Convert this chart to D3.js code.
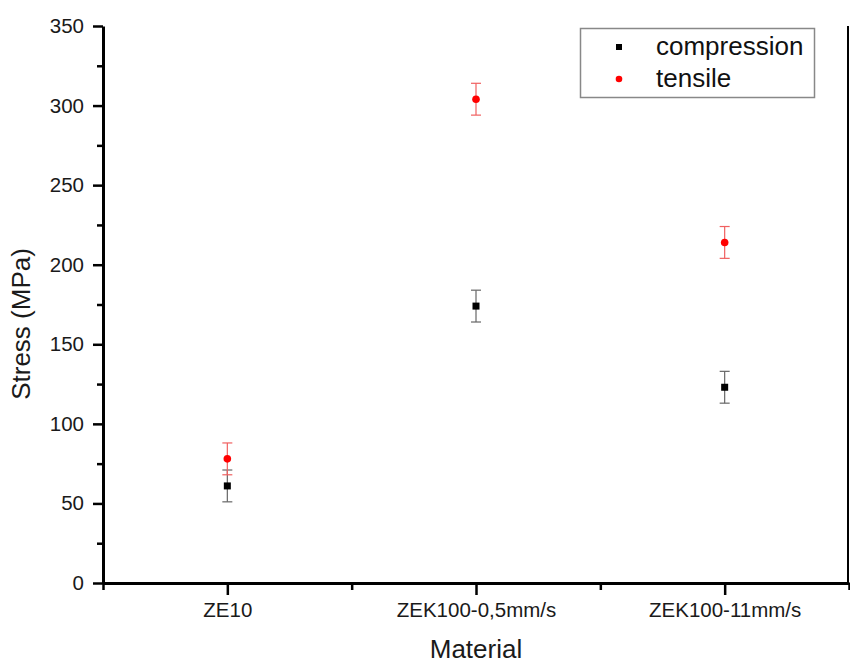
<!DOCTYPE html>
<html><head><meta charset="utf-8">
<script src="https://cdn.jsdelivr.net/npm/d3@7"></script>
<style>body{margin:0;background:#fff}svg{display:block}text{font-family:"Liberation Sans",Arial,sans-serif}</style>
</head><body><svg id="c" width="850" height="664"></svg>
<script>
const categories = ["ZE10", "ZEK100-0,5mm/s", "ZEK100-11mm/s"];
const compression = [61, 174, 123];
const compressionErr = [10, 10, 10];
const tensile = [78, 304, 214];
const tensileErr = [10, 10, 10];
const yTicks = [0, 50, 100, 150, 200, 250, 300, 350];
const seriesNames = ["compression", "tensile"];

const svg = d3.select("#c");
const L = 103, R = 849, T = 26, B = 583;
const x = d3.scaleLinear().domain([0.5, 3.5]).range([L, R]);
const y = d3.scaleLinear().domain([0, 350]).range([B, T]);

// y axis
const ya = svg.append("g").attr("transform", `translate(${L},0)`)
  .call(d3.axisLeft(y).tickValues(yTicks).tickSize(10).tickPadding(9).tickSizeOuter(0));
ya.select(".domain").attr("stroke-width", 3).attr("stroke", "#000");
ya.selectAll(".tick line").attr("stroke-width", 2.5);
ya.selectAll(".tick text").attr("font-size", 20.5).attr("fill", "#1a1a1a");
const yMinor = d3.range(25, 350, 50);
svg.append("g").attr("transform", `translate(${L},0)`)
  .call(d3.axisLeft(y).tickValues(yMinor).tickSize(6).tickFormat("").tickSizeOuter(0))
  .call(g => g.select(".domain").remove())
  .selectAll(".tick line").attr("stroke-width", 2.5);

// x axis
const xa = svg.append("g").attr("transform", `translate(0,${B})`)
  .call(d3.axisBottom(x).tickValues([1, 2, 3]).tickFormat(d => categories[d - 1]).tickSize(12).tickPadding(7).tickSizeOuter(0));
xa.select(".domain").attr("stroke-width", 3).attr("stroke", "#000");
xa.selectAll(".tick line").attr("stroke-width", 2.5);
xa.selectAll(".tick text").attr("font-size", 20.5).attr("fill", "#1a1a1a");
svg.append("g").attr("transform", `translate(0,${B})`)
  .call(d3.axisBottom(x).tickValues([0.5, 1.5, 2.5, 3.5]).tickSize(7).tickFormat("").tickSizeOuter(0))
  .call(g => g.select(".domain").remove())
  .selectAll(".tick line").attr("stroke-width", 2.5);

// right border
svg.append("line").attr("x1", R - 1).attr("x2", R - 1).attr("y1", T).attr("y2", B)
  .attr("stroke", "#000").attr("stroke-width", 2);

// titles
svg.append("text").attr("x", 476).attr("y", 658).attr("text-anchor", "middle")
  .attr("font-size", 26).attr("fill", "#1a1a1a").text("Material");
svg.append("text").attr("transform", "translate(30,324) rotate(-90)").attr("text-anchor", "middle")
  .attr("font-size", 26).attr("fill", "#1a1a1a").text("Stress (MPa)");

function drawSeries(vals, errs, color, errColor, shape) {
  const g = svg.append("g");
  vals.forEach((v, i) => {
    const cx = x(i + 1), e = errs[i];
    g.append("line").attr("x1", cx).attr("x2", cx).attr("y1", y(v + e)).attr("y2", y(v - e))
      .attr("stroke", errColor).attr("stroke-width", 1.2);
    [v + e, v - e].forEach(t => g.append("line").attr("x1", cx - 5).attr("x2", cx + 5)
      .attr("y1", y(t)).attr("y2", y(t)).attr("stroke", errColor).attr("stroke-width", 1.2));
    if (shape === "square") g.append("rect").attr("x", cx - 3.5).attr("y", y(v) - 3.5)
      .attr("width", 7).attr("height", 7).attr("fill", color);
    else g.append("circle").attr("cx", cx).attr("cy", y(v)).attr("r", 3.8).attr("fill", color);
  });
}
drawSeries(compression, compressionErr, "#000", "#666", "square");
drawSeries(tensile, tensileErr, "#f00", "#f06060", "circle");

// legend
const lg = svg.append("g");
lg.append("rect").attr("x", 580.5).attr("y", 28.5).attr("width", 234).attr("height", 69)
  .attr("fill", "#fff").attr("stroke", "#888").attr("stroke-width", 1.5);
const lgColors = ["#000", "#f00"];
seriesNames.forEach((n, i) => {
  const cy = 47 + i * 32;
  if (i === 0) lg.append("rect").attr("x", 616).attr("y", cy - 3).attr("width", 6).attr("height", 6).attr("fill", lgColors[i]);
  else lg.append("circle").attr("cx", 619).attr("cy", cy).attr("r", 3.3).attr("fill", lgColors[i]);
  lg.append("text").attr("x", 656).attr("y", cy + 8).attr("font-size", 26).attr("fill", "#111").text(n);
});
</script></body></html>
